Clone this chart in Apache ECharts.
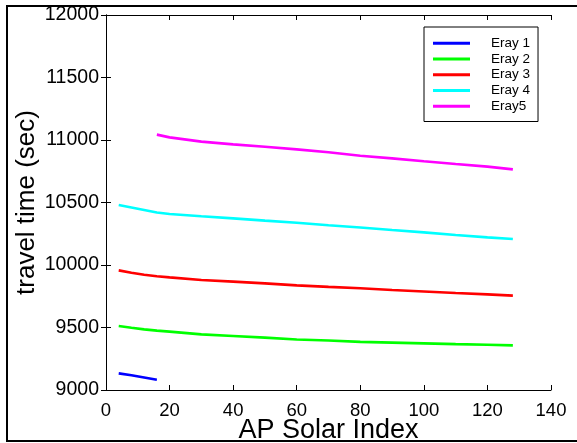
<!DOCTYPE html>
<html>
<head>
<meta charset="utf-8">
<script src="https://cdn.jsdelivr.net/npm/echarts@6/dist/echarts.min.js"></script>
<style>
html,body{margin:0;padding:0;background:#fff;}
#chart{width:577px;height:443px;}
</style>
</head>
<body>
<div id="chart"></div>
<script>
// Data
var seriesNames = ['Eray 1', 'Eray 2', 'Eray 3', 'Eray 4', 'Eray5'];
var xShort = [4, 8, 12, 16];
var xFull = [4, 8, 12, 16, 20, 30, 40, 50, 60, 70, 80, 90, 100, 110, 120, 128];
var xLate = [16, 20, 30, 40, 50, 60, 70, 80, 90, 100, 110, 120, 128];
var eray1 = [9133, 9118, 9100, 9082];
var eray2 = [9512, 9498, 9485, 9475, 9467, 9445, 9432, 9419, 9404, 9396, 9385, 9379, 9373, 9367, 9362, 9357];
var eray3 = [9957, 9938, 9922, 9910, 9901, 9880, 9867, 9853, 9837, 9825, 9814, 9800, 9788, 9776, 9765, 9755];
var eray4 = [10480, 10460, 10440, 10420, 10408, 10390, 10373, 10355, 10338, 10318, 10300, 10280, 10261, 10240, 10221, 10208];
var eray5 = [11043, 11021, 10987, 10965, 10946, 10925, 10902, 10874, 10853, 10830, 10808, 10787, 10765];
var xTicks = [0, 20, 40, 60, 80, 100, 120, 140];
var yTicks = [9000, 9500, 10000, 10500, 11000, 11500, 12000];

var colors = ['#0000ff', '#00ff00', '#ff0000', '#00ffff', '#ff00ff'];
var xSets = [xShort, xFull, xFull, xFull, xLate];
var ySets = [eray1, eray2, eray3, eray4, eray5];
var FONT = '"Liberation Sans", Arial, Helvetica, sans-serif';

function pairs(xs, ys) { return xs.map(function (x, i) { return [x, ys[i]]; }); }

var series = seriesNames.map(function (name, i) {
  return {
    name: name,
    type: 'line',
    data: pairs(xSets[i], ySets[i]),
    showSymbol: false,
    symbol: 'none',
    smooth: false,
    lineStyle: { color: colors[i], width: 2.6 },
    itemStyle: { color: colors[i] },
    animation: false
  };
});

var axisCommonX = {
  type: 'value', min: xTicks[0], max: xTicks[xTicks.length - 1], interval: 20,
  splitLine: { show: false },
  axisLine: { show: true, lineStyle: { color: '#000', width: 1 } },
  axisTick: { show: true, inside: true, length: 5, lineStyle: { color: '#000' } }
};
var axisCommonY = {
  type: 'value', min: yTicks[0], max: yTicks[yTicks.length - 1], interval: 500,
  splitLine: { show: false },
  axisLine: { show: true, lineStyle: { color: '#000', width: 1 } },
  axisTick: { show: true, inside: true, length: 5, lineStyle: { color: '#000' } }
};

var chart = echarts.init(document.getElementById('chart'), null, { renderer: 'canvas' });
chart.setOption({
  animation: false,
  backgroundColor: '#fff',
  textStyle: { fontFamily: FONT },
  grid: { left: 106, top: 15, right: 26, bottom: 53, containLabel: false, outerBoundsMode: 'none' },
  xAxis: [
    Object.assign({}, axisCommonX, {
      position: 'bottom',
      name: 'AP Solar Index',
      nameLocation: 'middle',
      nameGap: 27,
      nameMoveOverlap: false,
      nameTextStyle: { fontSize: 27, color: '#000', fontFamily: FONT, verticalAlign: 'top', lineHeight: 27 },
      axisLabel: { show: true, fontSize: 18.5, color: '#000', margin: 11, fontFamily: FONT,
        formatter: function (v) { return String(v); } }
    }),
    Object.assign({}, axisCommonX, { position: 'top', axisLabel: { show: false } })
  ],
  yAxis: [
    Object.assign({}, axisCommonY, {
      position: 'left',
      name: 'travel time (sec)',
      nameLocation: 'middle',
      nameGap: 66,
      nameMoveOverlap: false,
      nameTextStyle: { fontSize: 26, color: '#000', fontFamily: FONT },
      axisLabel: { show: true, fontSize: 19.5, color: '#000', margin: 7, fontFamily: FONT,
        formatter: function (v) { return String(v); } }
    }),
    Object.assign({}, axisCommonY, { position: 'right', axisLabel: { show: false } })
  ],
  legend: {
    orient: 'vertical',
    left: 424,
    top: 27,
    data: seriesNames,
    icon: 'rect',
    itemWidth: 37,
    itemHeight: 3,
    itemGap: 1.5,
    padding: [9, 8, 8, 9],
    borderColor: '#000',
    borderWidth: 1,
    backgroundColor: '#fff',
    textStyle: { fontSize: 13.5, lineHeight: 14.3, color: '#000', fontFamily: FONT, padding: [0, 0, 0, 16] }
  },
  graphic: [
    {
      type: 'rect',
      shape: { x: 7, y: 6, width: 620, height: 435 },
      style: { fill: 'none', stroke: '#000', lineWidth: 2 },
      silent: true,
      z: 100
    }
  ],
  series: series
});
</script>
</body>
</html>
